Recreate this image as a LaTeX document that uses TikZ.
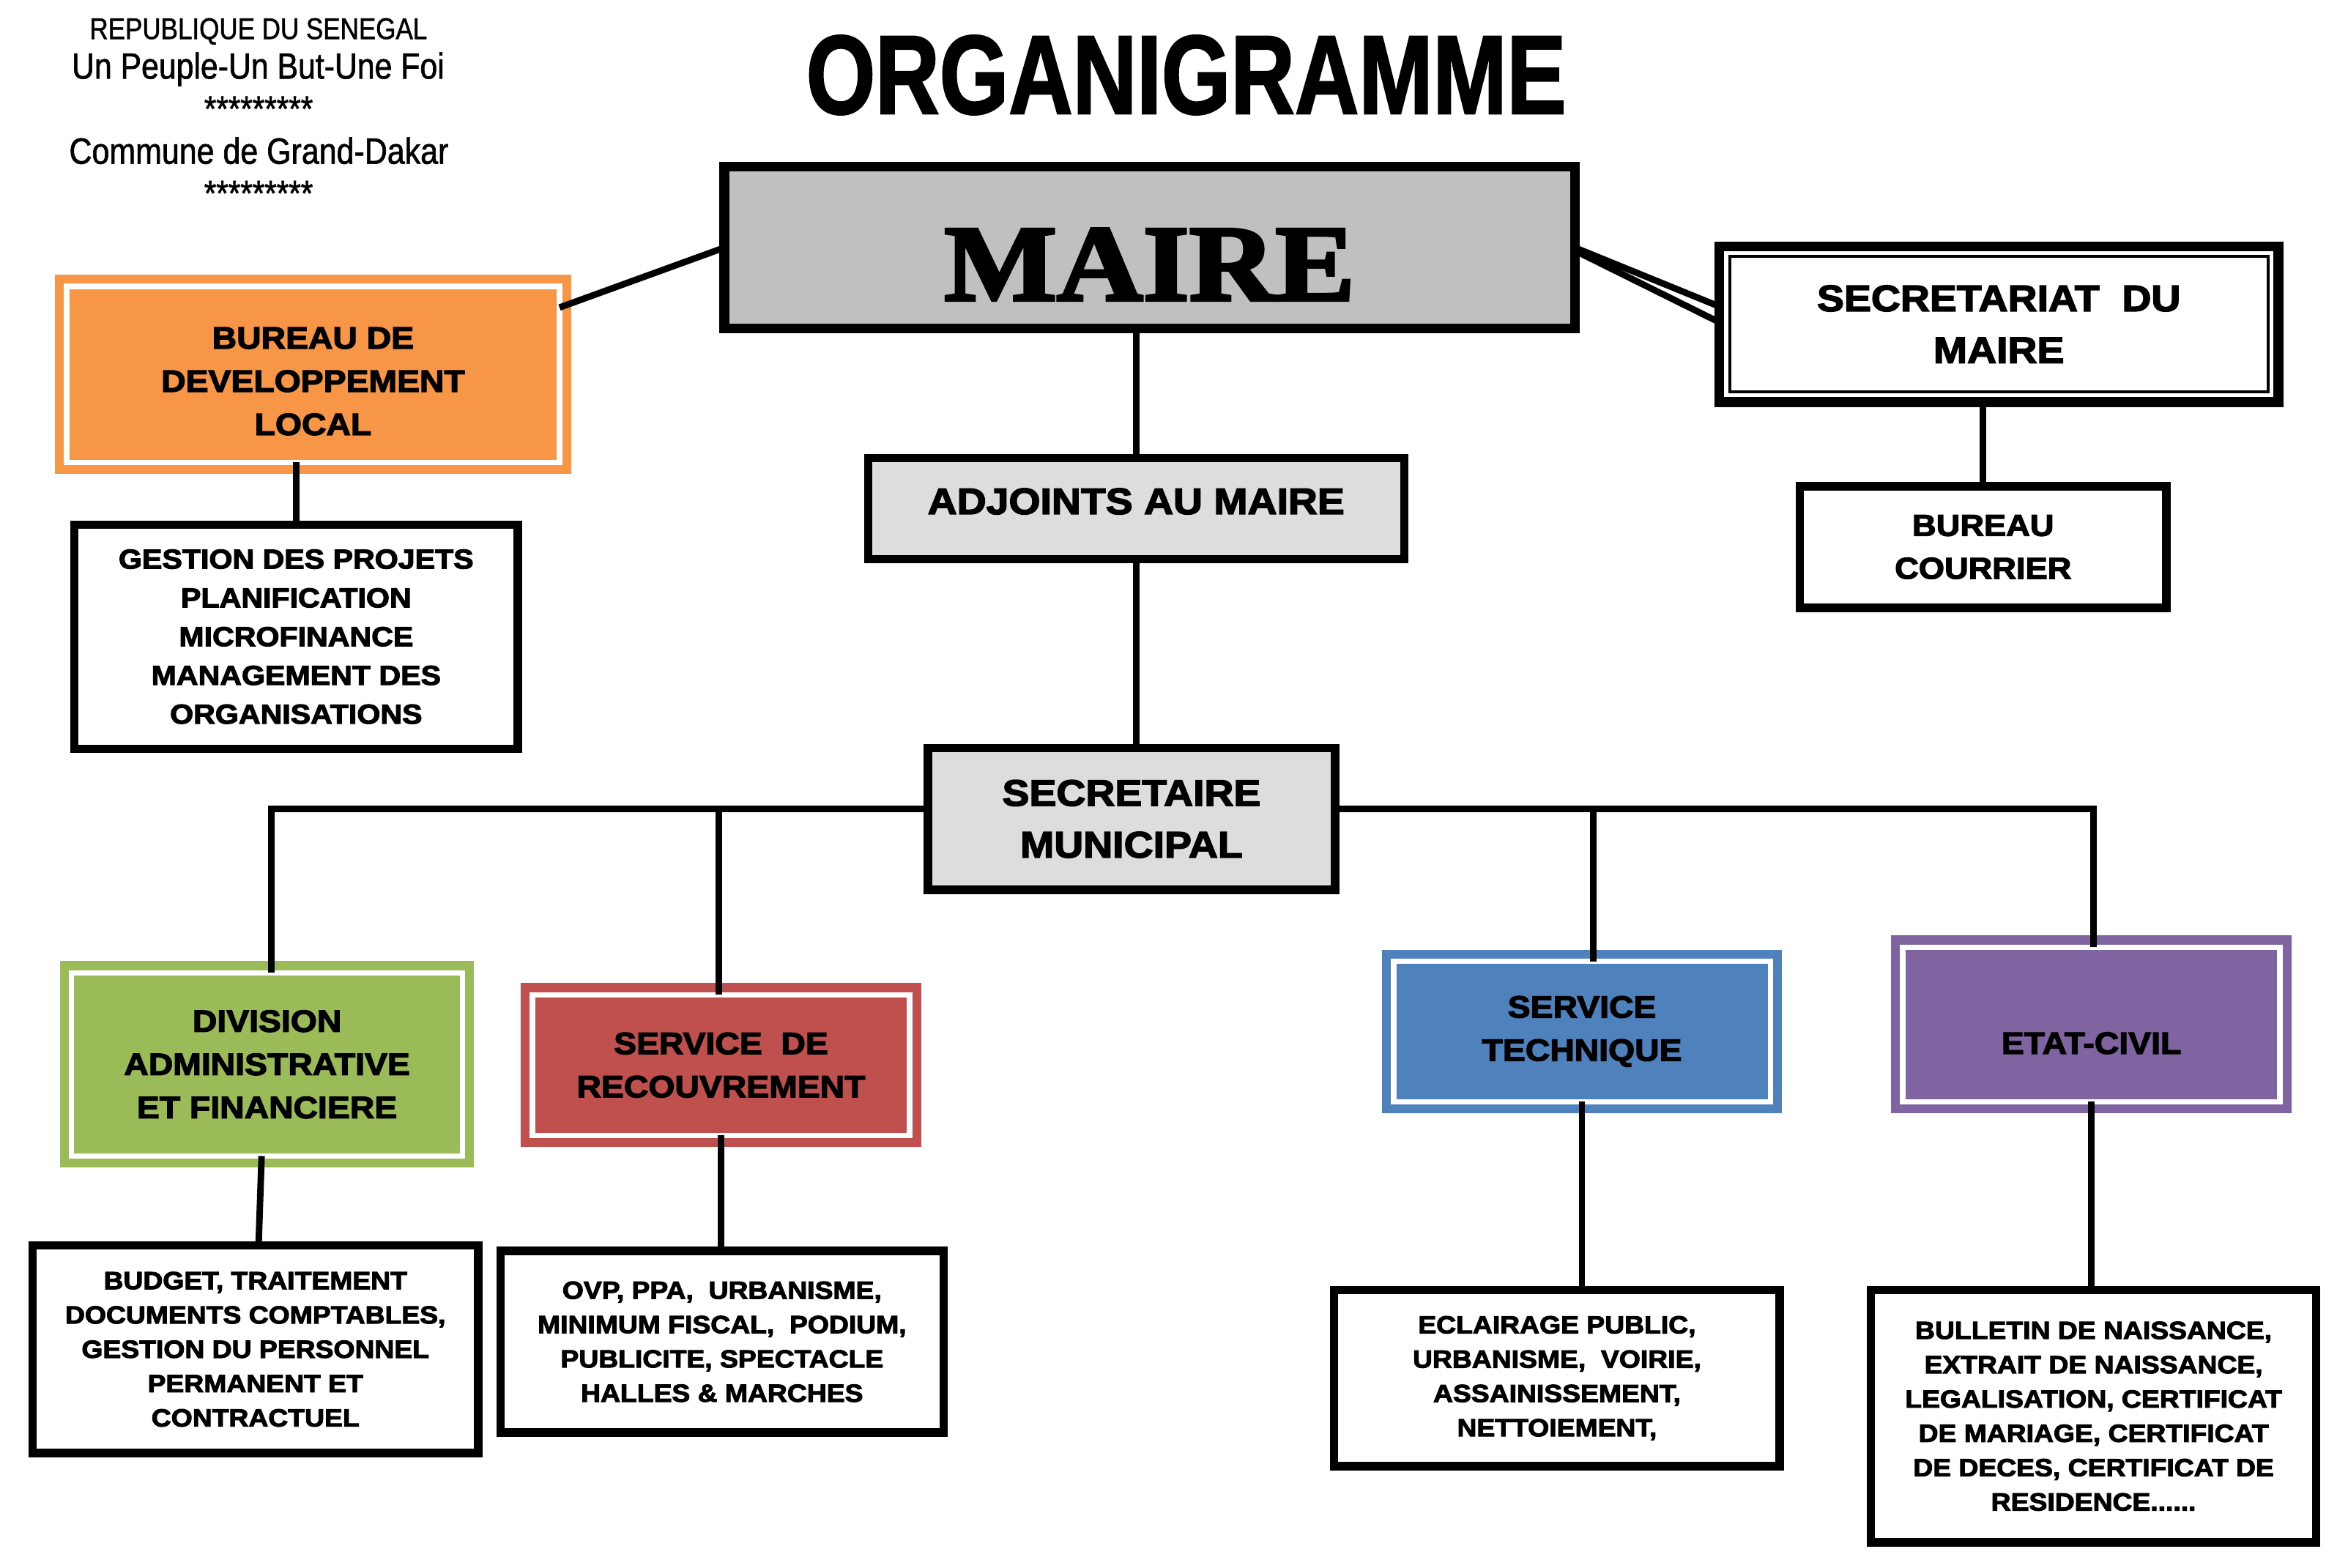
\documentclass[tikz,border=0pt]{standalone}
\usepackage{fontspec}
\usepackage{tikz}
\usetikzlibrary{calc, positioning}
\newfontfamily\headfont{Liberation Sans}[FakeStretch=0.86, FakeBold=1.3]
\newfontfamily\titlefont{Liberation Sans Bold}[FakeStretch=0.79, FakeBold=1.5]
\newfontfamily\boxfont{Liberation Sans Bold}[FakeStretch=1.1, FakeBold=3]
\newfontfamily\mairefont{Liberation Serif Bold}[FakeStretch=1.1, FakeBold=3]
\definecolor{mairegray}{HTML}{C0C0C0}
\definecolor{adjgray}{HTML}{DDDDDD}
\definecolor{bdlorange}{HTML}{F79646}
\definecolor{dafgreen}{HTML}{9BBB59}
\definecolor{recred}{HTML}{C0504D}
\definecolor{techblue}{HTML}{4F81BD}
\definecolor{etatpurple}{HTML}{8064A2}
\tikzset{unit box/.style={draw=black, line width=5.5pt, fill=white, inner sep=0pt, outer sep=0pt, align=center}}
\tikzset{service box/.style={draw=#1, fill=#1, double=white, double distance=3.5pt, line width=6pt, inner sep=0pt, outer sep=0pt, align=center, font=\boxfont\fontsize{20.5}{28.7}\selectfont}}
\tikzset{big text/.style={font=\boxfont\fontsize{24.5}{34.4}\selectfont}}
\tikzset{list text/.style={font=\boxfont\fontsize{16.5}{22.8}\selectfont}}
\tikzset{head text/.style={inner sep=0pt, text depth=0pt}}
\tikzset{link/.style={draw=black, line width=4.3pt}}

\begin{document}
\begin{tikzpicture}[x=1pt, y=-1pt]
\useasboundingbox (0,0) rectangle (1560,1041.3);
\node[head text, font=\headfont\fontsize{19.8}{19.8}\selectfont] (rep) at (171.7,19) {REPUBLIQUE DU SENEGAL};
\node[head text, font=\headfont\fontsize{24.2}{24.2}\selectfont] (devise) at (171.5,43.5) {Un Peuple-Un But-Une Foi};
\node[head text, font=\headfont\fontsize{24}{24}\selectfont] (stars1) at (171.8,72.3) {*********};
\node[head text, font=\headfont\fontsize{24.3}{24.3}\selectfont] (commune) at (172,100) {Commune de Grand-Dakar};
\node[head text, font=\headfont\fontsize{24}{24}\selectfont] (stars2) at (171.8,128.4) {*********};
\node[head text, font=\titlefont\fontsize{74.7}{74.7}\selectfont] (title) at (788.1,49.5) {ORGANIGRAMME};

\node[unit box, fill=mairegray, line width=6.5pt, minimum width=565pt, minimum height=107.5pt, font=\mairefont\fontsize{72}{72}\selectfont, text height=70pt, text depth=0pt] (maire) at (763.8,164.5) {MAIRE};
\node[service box=bdlorange, minimum width=327.5pt, minimum height=117pt, text height=80.5pt, text depth=0pt] (bdl) at (208,248.75) {BUREAU DE\\DEVELOPPEMENT\\LOCAL};
\node[unit box, big text, line width=6.5pt, minimum width=371.5pt, minimum height=103.5pt] (sec) at (1328,215.35) {SECRETARIAT~~DU\\MAIRE};
\draw[line width=2pt] ($(sec.north west)+(6.9,6.9)$) rectangle ($(sec.south east)+(-6.9,-6.9)$);
\node[unit box, font=\boxfont\fontsize{20}{28.5}\selectfont, minimum width=243.4pt, minimum height=80.8pt] (courrier) at (1317.55,363.45) {BUREAU\\COURRIER};
\node[unit box, fill=adjgray, big text, minimum width=356.2pt, minimum height=67.1pt, text height=17.5pt, text depth=10.2pt] (adj) at (754.85,337.9) {ADJOINTS AU MAIRE};
\node[unit box, font=\boxfont\fontsize{18.2}{25.75}\selectfont, minimum width=294.6pt, minimum height=148.9pt] (gest) at (196.75,423) {GESTION DES PROJETS\\PLANIFICATION\\MICROFINANCE\\MANAGEMENT DES\\ORGANISATIONS};
\node[unit box, fill=adjgray, big text, minimum width=270.6pt, minimum height=94.1pt] (sm) at (751.75,544.1) {SECRETAIRE\\MUNICIPAL};

\node[service box=dafgreen, minimum width=259.7pt, minimum height=121.8pt] (daf) at (177.4,707.15) {DIVISION\\ADMINISTRATIVE\\ET FINANCIERE};
\node[service box=recred, minimum width=250.6pt, minimum height=93.4pt] (rec) at (479.05,707.65) {SERVICE~~DE\\RECOUVREMENT};
\node[service box=techblue, minimum width=250.2pt, minimum height=93.3pt] (tech) at (1051.05,685.3) {SERVICE\\TECHNIQUE};
\node[service box=etatpurple, minimum width=250.6pt, minimum height=102.7pt, text height=39.1pt, text depth=0pt] (etat) at (1389.45,680.6) {ETAT-CIVIL};

\node[unit box, list text, minimum width=296.1pt, minimum height=138pt] (budget) at (169.7,896.45) {BUDGET, TRAITEMENT\\DOCUMENTS COMPTABLES,\\GESTION DU PERSONNEL\\PERMANENT ET\\CONTRACTUEL};
\node[unit box, list text, minimum width=294.5pt, minimum height=120.6pt] (ovp) at (479.7,891.45) {OVP, PPA,~~URBANISME,\\MINIMUM FISCAL,~~PODIUM,\\PUBLICITE, SPECTACLE\\HALLES \& MARCHES};
\node[unit box, list text, minimum width=296pt, minimum height=117.1pt] (ecl) at (1034.45,915.6) {ECLAIRAGE PUBLIC,\\URBANISME,~~VOIRIE,\\ASSAINISSEMENT,\\NETTOIEMENT,};
\node[unit box, list text, minimum width=296pt, minimum height=167.7pt] (bull) at (1390.95,940.9) {BULLETIN DE NAISSANCE,\\EXTRAIT DE NAISSANCE,\\LEGALISATION, CERTIFICAT\\DE MARIAGE, CERTIFICAT\\DE DECES, CERTIFICAT DE\\RESIDENCE......};

\draw[link] (maire.west) -- ($(bdl.east)+(0,-44.45)$);
\draw[link] (maire.east) -- ($(sec.west)+(0,-11.75)$);
\draw[link] ($(maire.east)+(0,2)$) -- ($(sec.west)+(0,-1.25)$);
\draw[link] (courrier.north |- sec.south) -- (courrier.north);
\draw[link] (adj.north |- maire.south) -- (adj.north);
\draw[link] (gest.north |- bdl.south) -- (gest.north);
\draw[link] (adj.south) -- (adj.south |- sm.north);
\draw[link] ($(sm.west)+(0,-6.7)$) -| ($(daf.north)+(2.7,0)$);
\draw[link] ($(sm.west)+(0,-6.7)$) -| ($(rec.north)+(-1.4,0)$);
\draw[link] ($(sm.east)+(0,-6.7)$) -| ($(tech.north)+(7.6,0)$);
\draw[link] ($(sm.east)+(0,-6.7)$) -| ($(etat.north)+(1.3,0)$);
\draw[link] ($(daf.south)+(-3.6,0)$) -- ($(budget.north)+(2.1,0)$);
\draw[link] (rec.south) -- (rec.south |- ovp.north);
\draw[link] (tech.south) -- (tech.south |- ecl.north);
\draw[link] (etat.south) -- (etat.south |- bull.north);
\end{tikzpicture}
\end{document}
